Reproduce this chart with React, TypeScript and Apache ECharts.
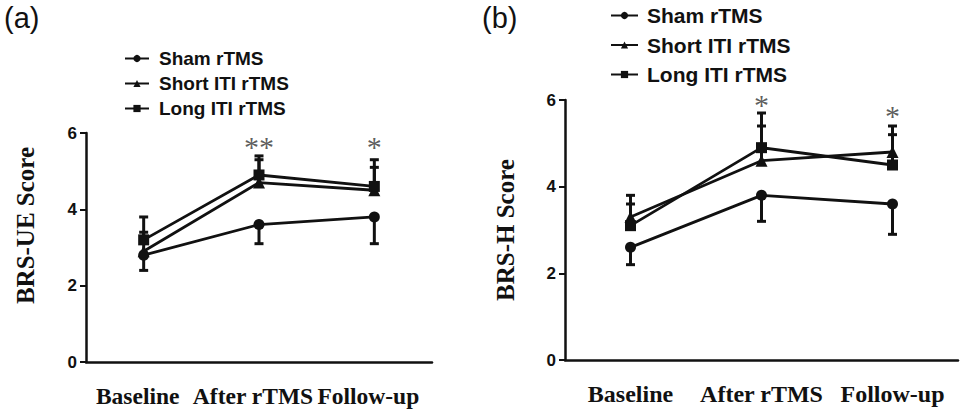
import React, { useEffect, useRef } from "react";
import * as echarts from "echarts";

const categories = ["Baseline", "After rTMS", "Follow-up"];
const seriesNames = ["Sham rTMS", "Short ITI rTMS", "Long ITI rTMS"];
const symbols = ["circle", "triangle", "rect"];

// Panel (a): BRS-UE Score
const ueSham = [2.8, 3.6, 3.8];
const ueShamErrEnd = [2.4, 3.1, 3.1];
const ueShort = [2.9, 4.7, 4.5];
const ueShortErrEnd = [3.4, 5.3, 5.1];
const ueLong = [3.2, 4.9, 4.6];
const ueLongErrEnd = [3.8, 5.4, 5.3];
const ueStars = ["", "**", "*"];
const ueStarLevel = [0, 5.65, 5.65];

// Panel (b): BRS-H Score
const hSham = [2.6, 3.8, 3.6];
const hShamErrEnd = [2.2, 3.2, 2.9];
const hShort = [3.3, 4.6, 4.8];
const hShortErrEnd = [3.8, 5.4, 5.4];
const hLong = [3.1, 4.9, 4.5];
const hLongErrEnd = [3.6, 5.7, 5.2];
const hStars = ["", "*", "*"];
const hStarLevel = [0, 5.9, 5.65];

const INK = "#111";

function buildPanel(idx: number, groups: number[][], errs: number[][], stars: string[], starLevel: number[]) {
  const series: any[] = [];
  groups.forEach((vals, s) => {
    series.push({
      type: "custom",
      name: seriesNames[s] + " SD",
      xAxisIndex: idx,
      yAxisIndex: idx,
      silent: true,
      z: 1,
      data: vals.map((v, i) => [i, v, errs[s][i]]),
      renderItem: (_p: any, api: any) => {
        const x = api.value(0);
        const p0 = api.coord([x, api.value(1)]);
        const p1 = api.coord([x, api.value(2)]);
        const w = 4.5;
        return {
          type: "group",
          children: [
            { type: "line", shape: { x1: p0[0], y1: p0[1], x2: p1[0], y2: p1[1] }, style: { stroke: INK, lineWidth: 3 } },
            { type: "line", shape: { x1: p1[0] - w, y1: p1[1], x2: p1[0] + w, y2: p1[1] }, style: { stroke: INK, lineWidth: 3 } },
          ],
        };
      },
    });
    series.push({
      type: "line",
      name: seriesNames[s],
      xAxisIndex: idx,
      yAxisIndex: idx,
      z: 3,
      data: vals,
      symbol: symbols[s],
      symbolSize: s === 1 ? 12 : 11,
      lineStyle: { color: INK, width: 2.8 },
      itemStyle: { color: INK },
    });
  });
  series.push({
    type: "scatter",
    xAxisIndex: idx,
    yAxisIndex: idx,
    silent: true,
    symbolSize: 0,
    z: 4,
    data: stars.map((t, i) => (t ? { value: [i, starLevel[i]], star: t } : null)).filter(Boolean),
    label: {
      show: true,
      position: "inside",
      formatter: (p: any) => p.data.star,
      fontFamily: "Liberation Serif",
      fontSize: 30,
      lineHeight: 22,
      color: "#333",
      letterSpacing: 1,
    },
  });
  return series;
}

export default function App() {
  const ref = useRef<HTMLDivElement>(null);
  useEffect(() => {
    document.body.style.margin = "0";
    const chart = echarts.init(ref.current!, null, { renderer: "svg" });
    const xAxisBase = (gi: number, fs: number, pad: number[]) => ({
      type: "category",
      gridIndex: gi,
      data: categories,
      boundaryGap: true,
      axisLine: { lineStyle: { color: INK, width: 2.5 } },
      axisTick: { alignWithLabel: true, length: 6, lineStyle: { color: INK, width: 2.5 } },
      axisLabel: {
        interval: 0,
        margin: 22,
        fontFamily: "Liberation Serif",
        fontWeight: "bold",
        fontSize: fs,
        color: INK,
        padding: pad,
      },
    });
    const yAxisBase = (gi: number, name: string, gap: number, pad: number[]) => ({
      type: "value",
      gridIndex: gi,
      min: 0,
      max: 6,
      interval: 2,
      splitLine: { show: false },
      axisLine: { show: true, lineStyle: { color: INK, width: 2.5 } },
      axisTick: { show: true, length: 6, lineStyle: { color: INK, width: 2 } },
      axisLabel: { fontFamily: "Liberation Sans", fontWeight: "bold", fontSize: 17, color: INK, margin: 9 },
      name,
      nameLocation: "middle",
      nameRotate: 90,
      nameGap: gap,
      nameTextStyle: { fontFamily: "Liberation Serif", fontWeight: "bold", fontSize: 25, color: INK, padding: pad },
    });
    const legendBase = (left: number, top: number, fs: number, gap: number, iw: number, tp: number) => ({
      orient: "vertical",
      left,
      top,
      itemWidth: iw,
      itemHeight: 9,
      itemGap: gap,
      selectedMode: false,
      data: seriesNames,
      textStyle: { fontFamily: "Liberation Sans", fontWeight: "bold", fontSize: fs, color: INK, lineHeight: fs, padding: [0, 0, 0, tp] },
    });
    chart.setOption({
      animation: false,
      backgroundColor: "#fff",
      grid: [
        { left: 86, top: 133, width: 346, height: 229 },
        { left: 565, top: 100, width: 393, height: 260 },
      ],
      xAxis: [xAxisBase(0, 23.5, [0, 12, 0, 0]), xAxisBase(1, 24, [0, 0, 0, 0])],
      yAxis: [yAxisBase(0, "BRS-UE Score", 48, [0, 0, 0, 44]), yAxisBase(1, "BRS-H Score", 47, [0, 0, 0, 0])],
      legend: [legendBase(119, 44, 19, 6, 24, 5), legendBase(605, 0, 21, 8.5, 27, 4)],
      graphic: [
        { type: "text", left: 4, top: 3, style: { text: "(a)", font: "29px 'Liberation Sans'", fill: INK } },
        { type: "text", left: 482, top: 3, style: { text: "(b)", font: "29px 'Liberation Sans'", fill: INK } },
      ],
      series: [
        ...buildPanel(0, [ueSham, ueShort, ueLong], [ueShamErrEnd, ueShortErrEnd, ueLongErrEnd], ueStars, ueStarLevel),
        ...buildPanel(1, [hSham, hShort, hLong], [hShamErrEnd, hShortErrEnd, hLongErrEnd], hStars, hStarLevel),
      ],
    });
    return () => chart.dispose();
  }, []);
  return <div ref={ref} style={{ width: 961, height: 415 }} />;
}
